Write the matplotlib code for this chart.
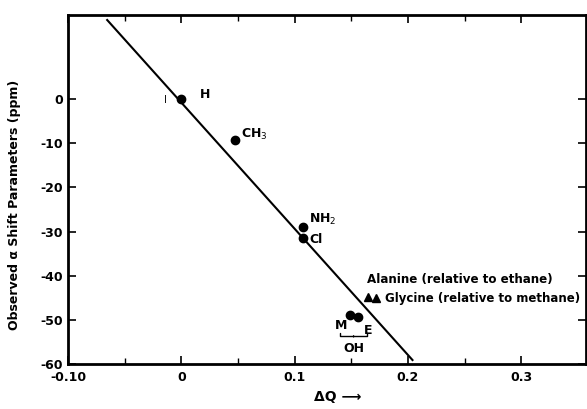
import numpy as np
import matplotlib.pyplot as plt

# data
sub_names = ['H', 'CH$_3$', 'NH$_2$', 'Cl']
sub_dq = [0.0, 0.047, 0.107, 0.107]
sub_shift = [0.0, -9.3, -28.9, -31.4]

oh_dq = [0.149, 0.156]          # M, E
oh_shift = [-48.9, -49.3]

amino_dq = [0.165, 0.172]       # alanine, glycine
amino_shift = [-44.8, -45.1]

fit_dq = [-0.0655, 0.204]
fit_shift = [17.9, -59.1]

xticks = [-0.10, 0, 0.1, 0.2, 0.3]
xticklabels = ['-0.10', '0', '0.1', '0.2', '0.3']
yticks = [0, -10, -20, -30, -40, -50, -60]

plt.rcParams['font.family'] = 'DejaVu Sans'
plt.rcParams['axes.unicode_minus'] = False
fig = plt.figure(figsize=(5.87, 4.09), dpi=100)
ax = fig.add_axes([0.116, 0.110, 0.882, 0.853])

ax.plot(fit_dq, fit_shift, color='black', lw=1.5)
ax.plot(sub_dq, sub_shift, 'o', color='black', ms=6)
ax.plot(oh_dq, oh_shift, 'o', color='black', ms=6)
ax.plot(amino_dq, amino_shift, '^', color='black', ms=6)

# point labels
lab = dict(fontsize=9, fontweight='bold')
ax.text(0.016, 0.3, 'H', **lab)
ax.text(-0.014, -0.3, 'I', fontsize=7, ha='center', va='center')
ax.text(0.053, -8.7, 'CH$_3$', **lab)
ax.text(0.113, -28.0, 'NH$_2$', **lab)
ax.text(0.113, -32.5, 'Cl', **lab)
ax.text(0.141, -51.2, 'M', ha='center', va='center', **lab)
ax.text(0.165, -52.4, 'E', ha='center', va='center', **lab)
ax.annotate('OH', xy=(0.152, -53.6), xytext=(0.152, -56.6),
            ha='center', va='center', **lab,
            arrowprops=dict(arrowstyle='-[, widthB=1.1, lengthB=0.25', lw=1))
ax.text(0.164, -41.6, 'Alanine (relative to ethane)', fontsize=8.6,
        fontweight='bold')
ax.text(0.180, -45.9, 'Glycine (relative to methane)', fontsize=8.5,
        fontweight='bold')

ax.set_xlim(-0.10, 0.357)
ax.set_ylim(-60, 19)
ax.set_xticks(xticks)
ax.set_xticklabels(xticklabels)
ax.set_xticks([-0.05, 0.05, 0.15, 0.25], minor=True)
ax.set_yticks(yticks)
ax.tick_params(direction='in', length=6, width=1.2, top=True, right=True,
               labelsize=9)
ax.tick_params(axis='x', pad=5)
ax.tick_params(which='minor', direction='in', length=4, width=1, top=True)
for t in ax.get_xticklabels() + ax.get_yticklabels():
    t.set_fontweight('bold')
for s in ax.spines.values():
    s.set_linewidth(2)

ax.set_xlabel('ΔQ ⟶', fontsize=10, fontweight='bold')
ax.xaxis.set_label_coords(0.52, -0.075)
ax.set_ylabel('Observed α Shift Parameters (ppm)', fontsize=9, fontweight='bold')
ax.yaxis.set_label_coords(-0.09, 0.455)

fig.savefig('out.png', dpi=100)
